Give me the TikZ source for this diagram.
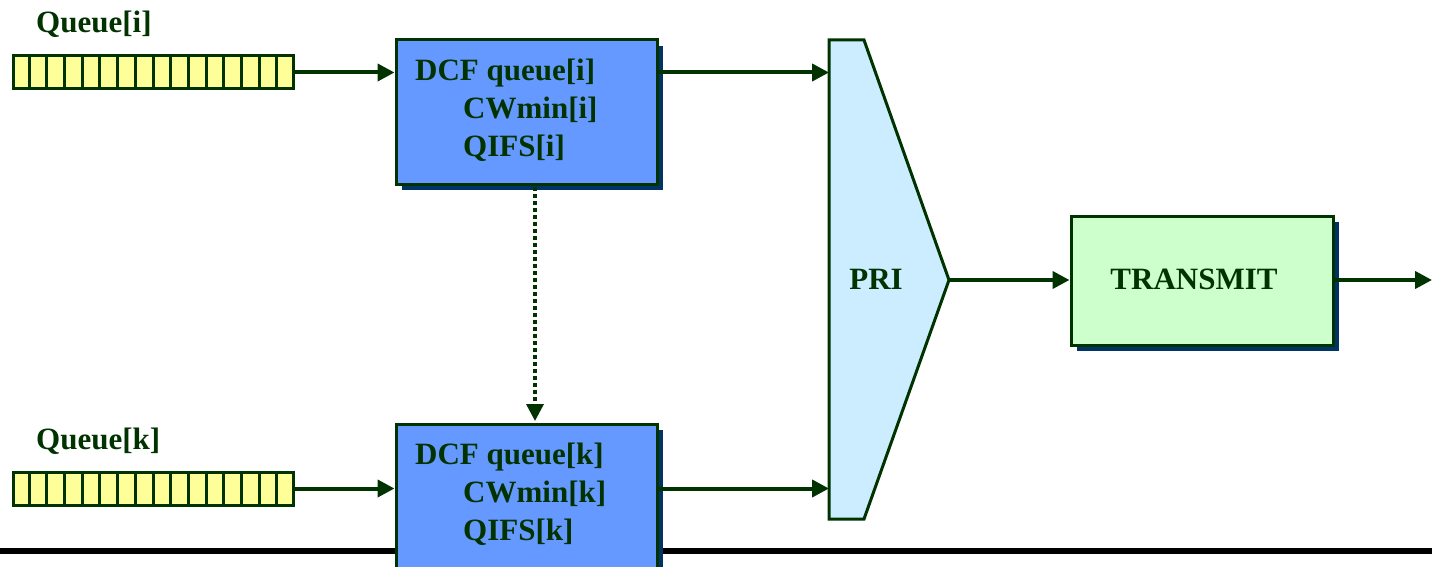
\documentclass[tikz,border=0pt]{standalone}
\usepackage{fontspec}
\setmainfont{Liberation Serif}
\usetikzlibrary{arrows.meta,calc,shadows}
\definecolor{dgreen}{HTML}{003300}
\definecolor{shadowc}{HTML}{003366}
\definecolor{dcfblue}{HTML}{6699FF}
\definecolor{pricol}{HTML}{CCECFF}
\definecolor{txgreen}{HTML}{CCFFCC}
\definecolor{qyellow}{HTML}{FFFF99}
\tikzset{
  txt/.style={text=dgreen,font=\fontsize{31}{37}\selectfont\bfseries,inner sep=0pt},
  dcfbox/.style={draw=dgreen,line width=3pt,fill=dcfblue,minimum width=261pt,minimum height=144pt,inner sep=0pt,
     drop shadow={shadow xshift=6pt,shadow yshift=-6pt,fill=shadowc,opacity=1}},
  txbox/.style={draw=dgreen,line width=3pt,fill=txgreen,minimum width=262pt,minimum height=129pt,inner sep=0pt,
     drop shadow={shadow xshift=6pt,shadow yshift=-6pt,fill=shadowc,opacity=1}},
  qbar/.style={draw=dgreen,line width=3pt,fill=qyellow,minimum width=280pt,minimum height=33pt,inner sep=0pt},
  conn/.style={draw=dgreen,line width=4pt,-{Triangle[length=17pt,width=17pt]}},
  dotconn/.style={draw=dgreen,line width=3.5pt,dash pattern=on 3.5pt off 3.5pt,-{Triangle[length=17pt,width=17pt]}},
}
\begin{document}
\begin{tikzpicture}[x=1pt,y=-1pt]
\useasboundingbox (0,0) rectangle (1432,567);
\clip (0,0) rectangle (1432,567);
% bottom rule
\coordinate (ruleL) at (0,551);
\coordinate (ruleR) at (1432,551);
\draw[line width=5.5pt,black] (ruleL) -- (ruleR);
% queues
\node[qbar] (qi) at (153,72.5) {};
\node[qbar] (qk) at (153,488.5) {};
\foreach \q in {qi,qk}{
  \foreach \k in {1,...,15}{
    \draw[dgreen,line width=3pt] ($(\q.north west)!\k/16!(\q.north east)$) -- ($(\q.south west)!\k/16!(\q.south east)$);
  }
}
\node[txt,anchor=base west] (qilab) at (36,33) {Queue[i]};
\node[txt,anchor=base west] (qklab) at (36,449) {Queue[k]};
% DCF boxes
\node[dcfbox] (dcfi) at (526.5,112) {};
\node[dcfbox] (dcfk) at (526.5,496) {};
\node[txt,anchor=base west] (ti1) at (415,81) {DCF queue[i]};
\node[txt,anchor=base west] (ti2) at (463,119) {CWmin[i]};
\node[txt,anchor=base west] (ti3) at (463,157) {QIFS[i]};
\node[txt,anchor=base west] (tk1) at (415,464) {DCF queue[k]};
\node[txt,anchor=base west] (tk2) at (463,502) {CWmin[k]};
\node[txt,anchor=base west] (tk3) at (463,540) {QIFS[k]};
% PRI
\coordinate (priTL) at (829,40);
\coordinate (priTR) at (864,40);
\coordinate (priTip) at (949,280);
\coordinate (priBR) at (864,519);
\coordinate (priBL) at (829,519);
\draw[draw=dgreen,line width=3pt,fill=pricol,line join=miter] (priTL) -- (priTR) -- (priTip) -- (priBR) -- (priBL) -- cycle;
\node[txt] (pri) at (876,279) {PRI};
% TRANSMIT
\node[txbox] (tx) at (1202,280.5) {};
\node[txt] (txlab) at (1194,279) {TRANSMIT};
\coordinate (out) at (1432,280);
% connectors
\draw[conn] (qi.east) -- (qi.east -| dcfi.west);
\draw[conn] (qk.east) -- (qk.east -| dcfk.west);
\draw[conn] (qi.east -| dcfi.east) -- (qi.east -| priTL);
\draw[conn] (qk.east -| dcfk.east) -- (qk.east -| priTL);
\draw[conn] (priTip) -- (priTip -| tx.west);
\draw[conn] (priTip -| tx.east) -- (out);
\draw[dotconn] ($(dcfi.south)+(8.5,1.5)$) -- ($(dcfk.north)+(8.5,-1.5)$);
\end{tikzpicture}
\end{document}
